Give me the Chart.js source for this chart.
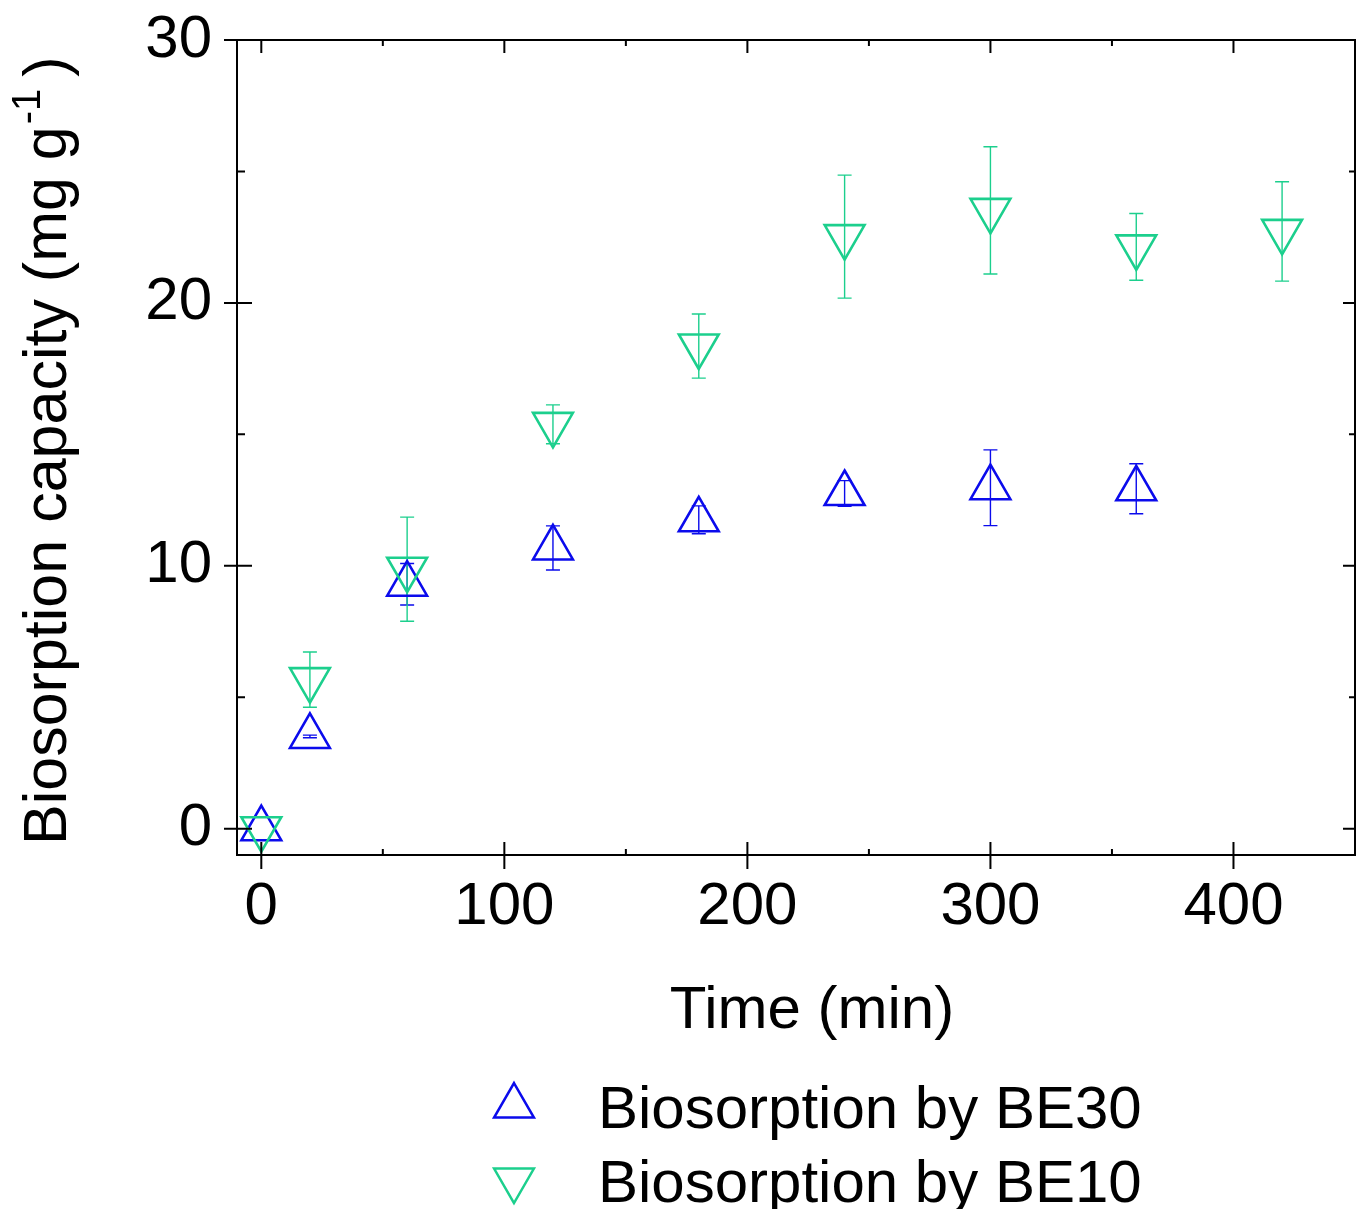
<!DOCTYPE html>
<html>
<head>
<meta charset="utf-8">
<title>Biosorption capacity vs time</title>
<script src="https://cdn.jsdelivr.net/npm/chart.js@4.4.1/dist/chart.umd.min.js"></script>
<style>
  html, body { margin: 0; padding: 0; background: #fff; }
  #chart { display: block; }
</style>
</head>
<body>
<canvas id="chart" width="1362" height="1209"></canvas>
<script>
// data
const timesBE30 = [0, 20, 60, 120, 180, 240, 300, 360];
const capBE30   = [0, 3.51, 9.3, 10.68, 11.75, 12.75, 12.97, 12.93];
const errBE30   = [0, 0.05, 0.79, 0.84, 0.53, 0.49, 1.44, 0.95];

const timesBE10 = [0, 20, 60, 120, 180, 240, 300, 360, 420];
const capBE10   = [0, 5.67, 9.87, 15.38, 18.36, 22.52, 23.52, 22.13, 22.72];
const errBE10   = [0, 1.05, 1.98, 0.74, 1.22, 2.34, 2.42, 1.27, 1.89];

const xTicks = [0, 100, 200, 300, 400];
const xMinor = [50, 150, 250, 350];
const yTicks = [0, 10, 20, 30];
const yMinor = [5, 15, 25];

const BLUE = '#0b0bec';
const GREEN = '#1ccf8d';
const FONT = "'Liberation Sans', Arial, sans-serif";

const pts = (xs, ys) => xs.map((x, i) => ({ x, y: ys[i] }));

// keep the plot box where the original has it
const fixBox = (s, size) => {
  if (s.isHorizontal()) s.height = size; else s.width = size;
  s.paddingTop = s.paddingBottom = s.paddingLeft = s.paddingRight = 0;
};

// frame, ticks, error bars, titles and legend
const decor = {
  id: 'decor',
  beforeDatasetsDraw(chart) {
    const { ctx, scales: { x, y } } = chart;
    const sets = [[timesBE30, capBE30, errBE30, BLUE], [timesBE10, capBE10, errBE10, GREEN]];
    ctx.save();
    ctx.lineWidth = 1.4;
    sets.forEach(([ts, vs, es, col]) => {
      ctx.strokeStyle = col;
      ts.forEach((t, i) => {
        if (!es[i]) return;
        const px = x.getPixelForValue(t);
        const top = y.getPixelForValue(vs[i] + es[i]);
        const bot = y.getPixelForValue(vs[i] - es[i]);
        ctx.beginPath();
        ctx.moveTo(px, top); ctx.lineTo(px, bot);
        ctx.moveTo(px - 7, top); ctx.lineTo(px + 7, top);
        ctx.moveTo(px - 7, bot); ctx.lineTo(px + 7, bot);
        ctx.stroke();
      });
    });
    ctx.restore();
  },
  afterDraw(chart) {
    const { ctx, chartArea: a, scales: { x, y } } = chart;
    ctx.save();
    ctx.strokeStyle = '#000';
    ctx.lineWidth = 2;
    ctx.strokeRect(a.left, a.top, a.right - a.left, a.bottom - a.top);

    ctx.beginPath();
    xTicks.forEach(v => {
      const p = x.getPixelForValue(v);
      ctx.moveTo(p, a.bottom - 13); ctx.lineTo(p, a.bottom + 14);
      ctx.moveTo(p, a.top); ctx.lineTo(p, a.top + 13);
    });
    xMinor.forEach(v => {
      const p = x.getPixelForValue(v);
      ctx.moveTo(p, a.bottom - 6); ctx.lineTo(p, a.bottom);
      ctx.moveTo(p, a.top); ctx.lineTo(p, a.top + 6);
    });
    yTicks.forEach(v => {
      const p = y.getPixelForValue(v);
      ctx.moveTo(a.left - 13, p); ctx.lineTo(a.left + 15, p);
      ctx.moveTo(a.right - 12, p); ctx.lineTo(a.right, p);
    });
    yMinor.forEach(v => {
      const p = y.getPixelForValue(v);
      ctx.moveTo(a.left, p); ctx.lineTo(a.left + 8, p);
      ctx.moveTo(a.right - 6, p); ctx.lineTo(a.right, p);
    });
    ctx.stroke();

    // axis titles
    ctx.fillStyle = '#000';
    ctx.textBaseline = 'alphabetic';
    ctx.textAlign = 'center';
    ctx.font = '60px ' + FONT;
    ctx.fillText('Time (min)', 812, 1028);

    ctx.save();
    ctx.translate(66, 845);
    ctx.rotate(-Math.PI / 2);
    ctx.textAlign = 'left';
    ctx.font = '61px ' + FONT;
    const main = 'Biosorption capacity (mg g';
    ctx.fillText(main, 0, 0);
    const w1 = ctx.measureText(main).width;
    ctx.font = '40px ' + FONT;
    ctx.fillText('-1', w1 + 2, -26);
    const w2 = ctx.measureText('-1').width;
    ctx.font = '61px ' + FONT;
    ctx.fillText(')', w1 + w2 + 14, 0);
    ctx.restore();

    // legend
    const tri = (cx, cy, r, down, col) => {
      ctx.beginPath();
      for (let k = 0; k < 3; k++) {
        const ang = (down ? Math.PI : 0) + k * 2 * Math.PI / 3;
        const px = cx + Math.sin(ang) * r, py = cy - Math.cos(ang) * r;
        k ? ctx.lineTo(px, py) : ctx.moveTo(px, py);
      }
      ctx.closePath();
      ctx.strokeStyle = col;
      ctx.lineWidth = 2.5;
      ctx.stroke();
    };
    tri(514, 1106, 23, false, BLUE);
    tri(514, 1180, 23, true, GREEN);
    ctx.textAlign = 'left';
    ctx.font = '60px ' + FONT;
    ctx.fillText('Biosorption by BE30', 598, 1128);
    ctx.fillText('Biosorption by BE10', 598, 1202);
    ctx.restore();
  }
};

new Chart(document.getElementById('chart'), {
  type: 'scatter',
  data: {
    datasets: [
      {
        label: 'Biosorption by BE30',
        data: pts(timesBE30, capBE30),
        order: 1,
        pointStyle: 'triangle',
        pointRadius: 23,
        borderWidth: 2.6,
        borderColor: BLUE,
        backgroundColor: 'rgba(0,0,0,0)',
        clip: false
      },
      {
        label: 'Biosorption by BE10',
        data: pts(timesBE10, capBE10),
        order: 0,
        pointStyle: 'triangle',
        pointRotation: 180,
        pointRadius: 23,
        borderWidth: 2.6,
        borderColor: GREEN,
        backgroundColor: 'rgba(0,0,0,0)',
        clip: false
      }
    ]
  },
  options: {
    responsive: false,
    animation: false,
    events: [],
    layout: { autoPadding: false, padding: { top: 40, right: 7, left: 0, bottom: 0 } },
    plugins: { legend: { display: false }, tooltip: { enabled: false } },
    scales: {
      x: {
        type: 'linear',
        min: -10,
        max: 450,
        grid: { display: false, drawTicks: false },
        border: { display: false },
        afterFit: s => fixBox(s, 354),
        afterBuildTicks: s => { s.ticks = xTicks.map(v => ({ value: v })); },
        ticks: { color: '#000', padding: 16, font: { size: 60, family: FONT }, maxRotation: 0, autoSkip: false }
      },
      y: {
        type: 'linear',
        min: -1,
        max: 30,
        grid: { display: false, drawTicks: false },
        border: { display: false },
        afterFit: s => fixBox(s, 237),
        afterBuildTicks: s => { s.ticks = yTicks.map(v => ({ value: v })); },
        ticks: { color: '#000', padding: 25, font: { size: 60, family: FONT }, autoSkip: false }
      }
    }
  },
  plugins: [decor]
});
</script>
</body>
</html>
